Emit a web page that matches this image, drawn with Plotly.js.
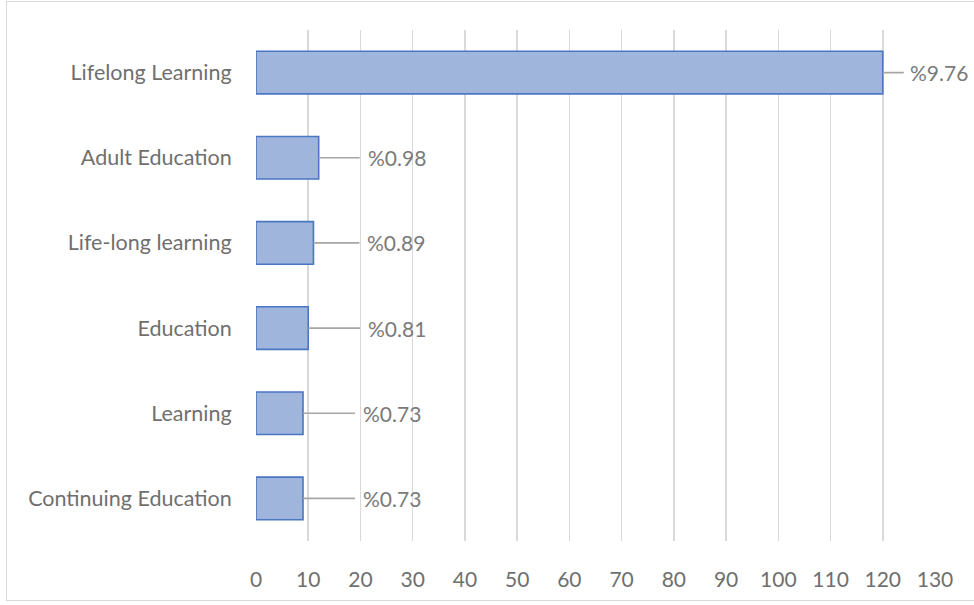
<!DOCTYPE html>
<html>
<head>
<meta charset="utf-8">
<script src="https://cdn.plot.ly/plotly-3.0.1.min.js"></script>
<style>
  html, body { margin: 0; padding: 0; background: #fff; }
  #chart { width: 974px; height: 605px; }
  #frame { position: absolute; left: 6px; top: 1px; width: 980px; height: 600px;
           border: 1.5px solid #d9d9d9; pointer-events: none; box-sizing: border-box; }
</style>
</head>
<body>
<div id="chart"></div>
<div id="frame"></div>
<script>
const categories = ["Lifelong Learning", "Adult Education", "Life-long learning", "Education", "Learning", "Continuing Education"];
const counts = [120, 12, 11, 10, 9, 9];
const percentLabels = ["%9.76", "%0.98", "%0.89", "%0.81", "%0.73", "%0.73"];
const xTicks = [0, 10, 20, 30, 40, 50, 60, 70, 80, 90, 100, 110, 120, 130];

// leader-line lengths in pixels (layout only)
const leaderLen = [21, 41, 46, 52, 52, 52];

const FONT = "Lato, 'Open Sans', sans-serif";

const trace = {
  type: "bar",
  orientation: "h",
  y: categories,
  x: counts,
  width: 0.5,
  marker: { color: "#9fb5dc", line: { color: "#4a76c2", width: 1.6 } },
  hoverinfo: "none"
};

const annotations = categories.map((c, i) => ({
  x: counts[i], y: c, xref: "x", yref: "y",
  text: percentLabels[i],
  showarrow: true, arrowhead: 0, arrowwidth: 1.6, arrowcolor: "#a6a6a6",
  ax: leaderLen[i], ay: 0, xanchor: "left", yanchor: "middle",
  borderpad: i === 0 ? 5 : 7,
  font: { family: FONT, size: 21, color: "#7a7a7a" }
}));

const layout = {
  width: 974, height: 605,
  margin: { l: 256, r: 39, t: 30, b: 64 },
  paper_bgcolor: "#ffffff", plot_bgcolor: "#ffffff",
  showlegend: false,
  xaxis: {
    range: [0, 130], tickvals: xTicks, ticktext: xTicks.map(String),
    showgrid: true, gridcolor: "#d9d9d9", gridwidth: 1.6,
    zeroline: false, showline: false,
    ticks: "outside", ticklen: 20, tickcolor: "rgba(0,0,0,0)",
    tickfont: { family: FONT, size: 21, color: "#6f6f6f" },
    fixedrange: true
  },
  yaxis: {
    type: "category", categoryorder: "array", categoryarray: categories,
    autorange: "reversed",
    showgrid: false, zeroline: false, showline: false,
    ticks: "outside", ticklen: 19, tickcolor: "rgba(0,0,0,0)",
    tickfont: { family: FONT, size: 21.5, color: "#6f6f6f" },
    fixedrange: true
  },
  annotations: annotations
};

Plotly.newPlot("chart", [trace], layout, { displayModeBar: false, staticPlot: true });
</script>
</body>
</html>
